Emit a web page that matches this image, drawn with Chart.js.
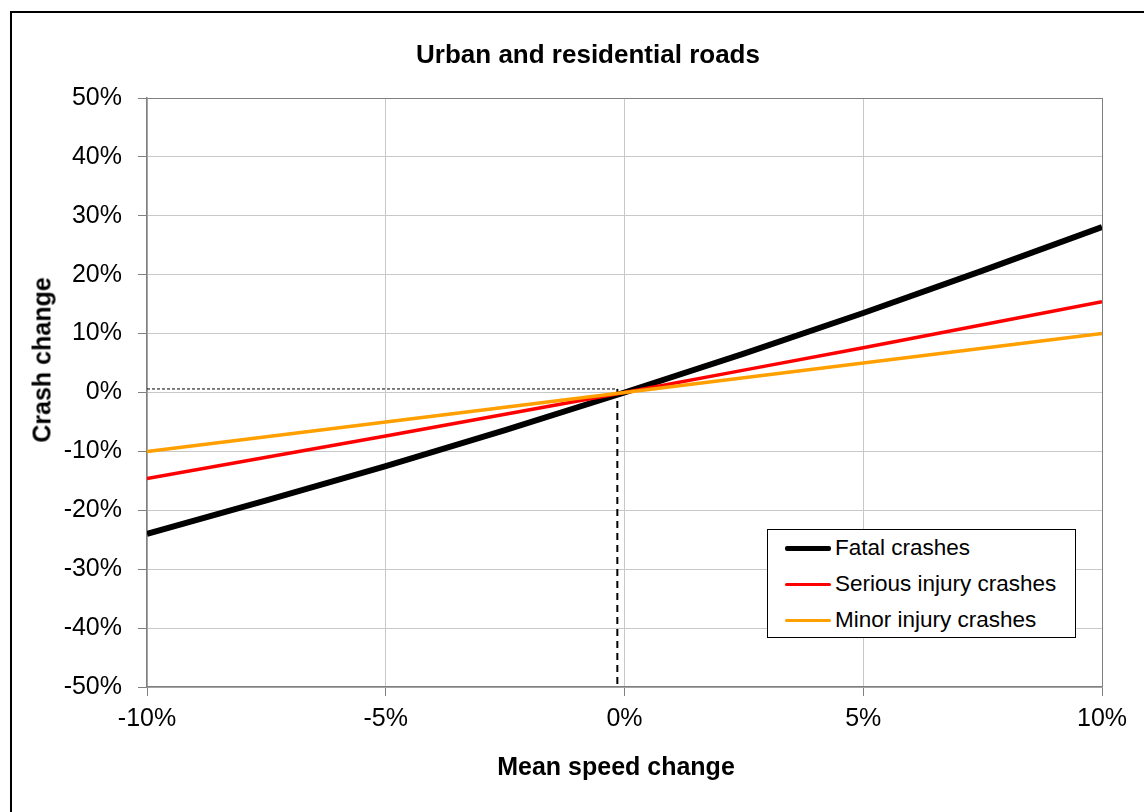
<!DOCTYPE html>
<html>
<head>
<meta charset="utf-8">
<title>Urban and residential roads</title>
<script src="https://cdn.jsdelivr.net/npm/chart.js@4"></script>
<style>
  html, body { margin: 0; padding: 0; background: #fff; overflow: hidden; }
  #wrap { position: relative; width: 1144px; height: 812px; font-family: 'Liberation Sans', Arial, sans-serif; }
  #frame { position: absolute; left: 10px; top: 11px; width: 1200px; height: 900px; border: 2px solid #000; box-sizing: border-box; }
  #chart { position: absolute; left: 0; top: 0; }
  .label { position: absolute; white-space: nowrap; font-weight: bold; color: #000; transform: translate(-50%, -50%); line-height: 1; }
  #title { left: 588px; top: 54px; font-size: 26px; }
  #xtitle { left: 616px; top: 766px; font-size: 25px; }
  #ytitle { left: 42px; top: 360px; font-size: 25px; transform: translate(-50%, -50%) rotate(-90deg); }
  .legend {
    position: absolute; left: 767px; top: 529px; width: 309px; height: 109px;
    box-sizing: border-box; border: 1.5px solid #000; background: #fff;
    font-size: 22.5px; color: #000;
  }
  .legend .row { position: absolute; left: 17px; height: 30px; display: flex; align-items: center; }
  .legend .swatch { width: 46px; margin-right: 4px; border-radius: 2px; }
</style>
</head>
<body>
<div id="wrap">
  <div id="frame"></div>
  <canvas id="chart" width="1144" height="812"></canvas>
  <div class="label" id="title">Urban and residential roads</div>
  <div class="label" id="xtitle">Mean speed change</div>
  <div class="label" id="ytitle">Crash change</div>
  <div class="legend">
    <div class="row" style="top:3px"><span class="swatch" style="height:5px;background:#000"></span>Fatal crashes</div>
    <div class="row" style="top:39px"><span class="swatch" style="height:3px;background:#ff0000"></span>Serious injury crashes</div>
    <div class="row" style="top:75px"><span class="swatch" style="height:3px;background:#ff9f00"></span>Minor injury crashes</div>
  </div>
</div>
<script>
// Mean speed change (%) along the x axis
const speedChange = [-10, -7.5, -5, -2.5, 0, 2.5, 5, 7.5, 10];

// Crash change (%)
const fatalCrashes = [-24.0, -18.3, -12.5, -6.4, 0, 6.6, 13.5, 20.7, 28.1];
const seriousCrashes = [-14.6, -11.0, -7.4, -3.7, 0, 3.8, 7.6, 11.5, 15.4];
const minorCrashes = [-10.0, -7.5, -5.0, -2.5, 0, 2.5, 5.0, 7.5, 10.0];

// dashed guide to the origin
const refX = -0.15;
const refY = 0.6;

const xTicks = [-10, -5, 0, 5, 10];
const yTicks = [-50, -40, -30, -20, -10, 0, 10, 20, 30, 40, 50];

const FONT = "'Liberation Sans', Arial, sans-serif";
const AXIS_GREY = '#808080';
const GRID_GREY = '#c8c8c8';

const toPoints = (ys) => speedChange.map((x, i) => ({ x, y: ys[i] }));

new Chart(document.getElementById('chart'), {
  type: 'line',
  data: {
    datasets: [
      { label: 'Fatal crashes', data: toPoints(fatalCrashes), borderColor: '#000', borderWidth: 6, order: 3 },
      { label: 'Serious injury crashes', data: toPoints(seriousCrashes), borderColor: '#ff0000', borderWidth: 3.5, order: 2 },
      { label: 'Minor injury crashes', data: toPoints(minorCrashes), borderColor: '#ff9f00', borderWidth: 3.5, order: 1 },
      {
        label: 'ref-h',
        data: [{ x: xTicks[0], y: refY }, { x: refX, y: refY }],
        borderColor: '#000', borderWidth: 1, borderDash: [3, 2], order: 5,
      },
      {
        label: 'ref-v',
        data: [{ x: refX, y: refY }, { x: refX, y: yTicks[0] }],
        borderColor: '#000', borderWidth: 2, borderDash: [7, 5], order: 4,
      },
    ],
  },
  options: {
    responsive: false,
    animation: false,
    layout: { padding: { left: 0, top: 98, right: 42, bottom: 0 } },
    elements: { point: { radius: 0 }, line: { tension: 0, borderCapStyle: 'butt' } },
    plugins: {
      legend: { display: false },
      tooltip: { enabled: false },
      title: { display: false },
    },
    scales: {
      x: {
        type: 'linear',
        min: xTicks[0],
        max: xTicks[xTicks.length - 1],
        afterFit: (scale) => { scale.height = 125; },
        afterBuildTicks: (scale) => { scale.ticks = xTicks.map((v) => ({ value: v })); },
        ticks: {
          color: '#000',
          font: { family: FONT, size: 25 },
          padding: 8,
          maxRotation: 0,
          callback: (v) => v + '%',
        },
        grid: {
          color: (c) => (c.tick && c.tick.value === xTicks[xTicks.length - 1] ? AXIS_GREY : GRID_GREY),
          tickColor: AXIS_GREY,
          tickLength: 9,
        },
        border: { color: AXIS_GREY, width: 1.5 },
      },
      y: {
        min: yTicks[0],
        max: yTicks[yTicks.length - 1],
        afterFit: (scale) => { scale.width = 147; },
        afterBuildTicks: (scale) => { scale.ticks = yTicks.map((v) => ({ value: v })); },
        ticks: {
          color: '#000',
          font: { family: FONT, size: 25 },
          padding: 16,
          callback: (v) => v + '%',
        },
        grid: {
          color: (c) => (c.tick && c.tick.value === yTicks[yTicks.length - 1] ? AXIS_GREY : GRID_GREY),
          tickColor: AXIS_GREY,
          tickLength: 9,
        },
        border: { color: AXIS_GREY, width: 1.5 },
      },
    },
  },
});
</script>
</body>
</html>
